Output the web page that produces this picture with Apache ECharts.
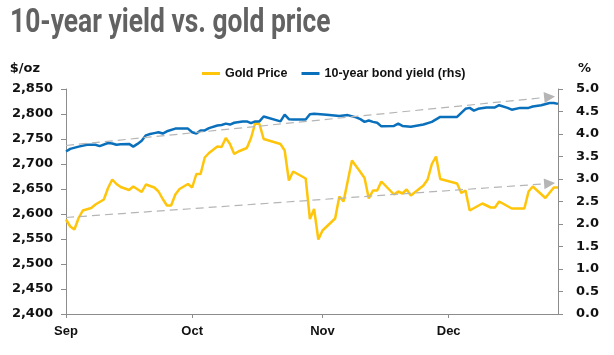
<!DOCTYPE html>
<html>
<head>
<meta charset="utf-8">
<script src="https://cdn.jsdelivr.net/npm/echarts@6/dist/echarts.min.js"></script>
<style>
html,body{margin:0;padding:0;background:#fff;}
#chart{width:614px;height:355px;}
</style>
</head>
<body>
<div id="chart"></div>
<script>
// ---- data ----
const titleText = '10-year yield vs. gold price';
const seriesNames = ['Gold Price', '10-year bond yield (rhs)'];
const monthLabels = ['Sep', 'Oct', 'Nov', 'Dec'];
const monthStartIdx = [0, 30, 61, 91];
const dayCount = 118; // Sep 1 .. Dec 27

const goldDays = [0,1,2,3,4,6,7,9,10,11,12,13,15,16,18,19,21,22,23,24,25,26,27,29,30,31,32,33,34,36,37,38,39,40,41,43,44,45,46,47,51,52,53,54,57,58,59,60,61,64,65,66,68,70,71,72,73,74,75,78,79,80,81,82,85,86,87,88,89,93,94,95,96,99,101,102,103,106,109,110,111,114,116,117];
const goldPrice = [2589,2575,2569,2592,2607,2612,2619,2629,2652,2669,2660,2654,2648,2655,2644,2659,2653,2645,2630,2617,2617,2639,2650,2660,2653,2680,2680,2713,2722,2735,2734,2752,2740,2720,2725,2732,2752,2782,2780,2750,2740,2727,2667,2685,2671,2590,2610,2549,2567,2591,2635,2625,2707,2684,2672,2631,2647,2647,2665,2639,2645,2641,2649,2637,2657,2669,2700,2715,2670,2661,2642,2647,2607,2621,2613,2613,2625,2611,2611,2645,2655,2632,2653,2653];

const yieldDays = [0,1,3,5,7,8,10,11,12,13,15,16,17,18,19,20,21,22,23,24,26,29,30,31,32,33,34,36,37,38,39,40,42,43,44,45,46,47,51,52,53,54,57,58,59,62,65,67,69,70,71,72,73,74,75,78,79,80,82,85,87,89,93,94,95,96,97,98,100,102,103,105,106,108,110,111,113,115,116,117];
const yieldValues = [3.61,3.67,3.72,3.76,3.76,3.73,3.80,3.79,3.76,3.77,3.78,3.72,3.78,3.85,3.97,4.00,4.02,4.04,4.01,4.06,4.12,4.12,4.04,4.01,4.08,4.08,4.13,4.19,4.20,4.23,4.21,4.25,4.28,4.28,4.24,4.28,4.28,4.39,4.28,4.43,4.33,4.32,4.32,4.44,4.45,4.43,4.40,4.42,4.37,4.33,4.27,4.30,4.27,4.25,4.17,4.18,4.23,4.18,4.16,4.21,4.27,4.38,4.38,4.47,4.56,4.58,4.52,4.56,4.59,4.59,4.64,4.58,4.54,4.58,4.58,4.61,4.64,4.69,4.69,4.67];

// trend arrows (on gold axis): [startDay, startValue, endDay, endValue]
const upperTrend = [0, 2737, 115, 2834];
const lowerTrend = [0, 2593, 115, 2661];

const leftAxis = {min: 2400, max: 2850, interval: 50};
const rightAxis = {min: 0, max: 5, interval: 0.5};

// ---- build ----
const dayLabels = [];
const start = new Date(2024, 8, 1);
for (let i = 0; i < dayCount; i++) {
  const d = new Date(start.getTime() + i * 86400000);
  dayLabels.push((d.getMonth() + 1) + '/' + d.getDate());
}
const labelOf = {};
monthStartIdx.forEach((idx, k) => { labelOf[dayLabels[idx]] = monthLabels[k]; });

const goldData = goldDays.map((d, i) => [d, goldPrice[i]]);
const yieldData = yieldDays.map((d, i) => [d, yieldValues[i]]);

const axisFont = 'DejaVu Sans';
const chart = echarts.init(document.getElementById('chart'));
chart.setOption({
  animation: false,
  graphic: [{
    type: 'text', x: 10, y: 7, scaleX: 0.8, silent: true,
    style: {text: titleText, fontFamily: 'Roboto', fontWeight: 'bold', fontSize: 33,
      fill: '#626262', textVerticalAlign: 'top', verticalAlign: 'top'}
  }],
  legend: {
    left: 197, top: 62, itemGap: 14, itemWidth: 18, itemHeight: 3,
    icon: 'rect',
    textStyle: {fontFamily: 'Liberation Sans', fontWeight: 'bold', fontSize: 12.5, color: '#111'},
    data: seriesNames
  },
  grid: {left: 66, right: 56, top: 89, bottom: 41, containLabel: false},
  xAxis: {
    type: 'category', data: dayLabels, boundaryGap: false,
    axisLine: {lineStyle: {color: '#8c8c8c', width: 1}},
    axisTick: {show: true, length: 4, lineStyle: {color: '#8c8c8c'},
      interval: (i) => monthStartIdx.includes(i)},
    axisLabel: {interval: (i) => monthStartIdx.includes(i), margin: 11,
      formatter: (v) => labelOf[v] || '',
      fontFamily: 'Liberation Sans', fontWeight: 'bold', fontSize: 13, color: '#111'},
    splitLine: {show: false}
  },
  yAxis: [
    {type: 'value', min: leftAxis.min, max: leftAxis.max, interval: leftAxis.interval,
      name: '$/oz', nameLocation: 'end', nameGap: 14,
      nameTextStyle: {fontFamily: axisFont, fontWeight: 'bold', fontSize: 13, color: '#111', align: 'right', padding: [0, 26, 0, 0]},
      axisLine: {show: true, lineStyle: {color: '#8c8c8c'}},
      axisTick: {show: true, length: 5, lineStyle: {color: '#8c8c8c'}},
      axisLabel: {margin: 13, fontFamily: axisFont, fontWeight: 'bold', fontSize: 13, color: '#111',
        formatter: (v) => v.toLocaleString('en-US')},
      splitLine: {show: false}},
    {type: 'value', min: rightAxis.min, max: rightAxis.max, interval: rightAxis.interval,
      name: '%', nameLocation: 'end', nameGap: 14,
      nameTextStyle: {fontFamily: axisFont, fontWeight: 'bold', fontSize: 13, color: '#111', align: 'left', padding: [0, 0, 0, 20]},
      axisLine: {show: true, lineStyle: {color: '#8c8c8c'}},
      axisTick: {show: true, length: 5, lineStyle: {color: '#8c8c8c'}},
      axisLabel: {margin: 18, fontFamily: axisFont, fontWeight: 'bold', fontSize: 13, color: '#111',
        formatter: (v) => v.toFixed(1)},
      splitLine: {show: false}}
  ],
  series: [
    {name: seriesNames[0], type: 'line', yAxisIndex: 0, data: goldData, showSymbol: false,
      connectNulls: true, color: '#FFC50A', lineStyle: {width: 2.5, color: '#FFC50A'}, z: 3,
      markLine: {silent: true, symbol: ['none', 'triangle'], symbolSize: 11, label: {show: false},
        lineStyle: {type: [8, 5], color: '#b5b5b5', width: 1.2},
        emphasis: {disabled: true},
        data: [
          [{coord: [dayLabels[upperTrend[0]], upperTrend[1]]}, {coord: [dayLabels[upperTrend[2]], upperTrend[3]]}],
          [{coord: [dayLabels[lowerTrend[0]], lowerTrend[1]]}, {coord: [dayLabels[lowerTrend[2]], lowerTrend[3]]}]
        ]}},
    {name: seriesNames[1], type: 'line', yAxisIndex: 1, data: yieldData, showSymbol: false,
      connectNulls: true, color: '#0A70BC', lineStyle: {width: 2.5, color: '#0A70BC'}, z: 4}
  ]
});
</script>
</body>
</html>
